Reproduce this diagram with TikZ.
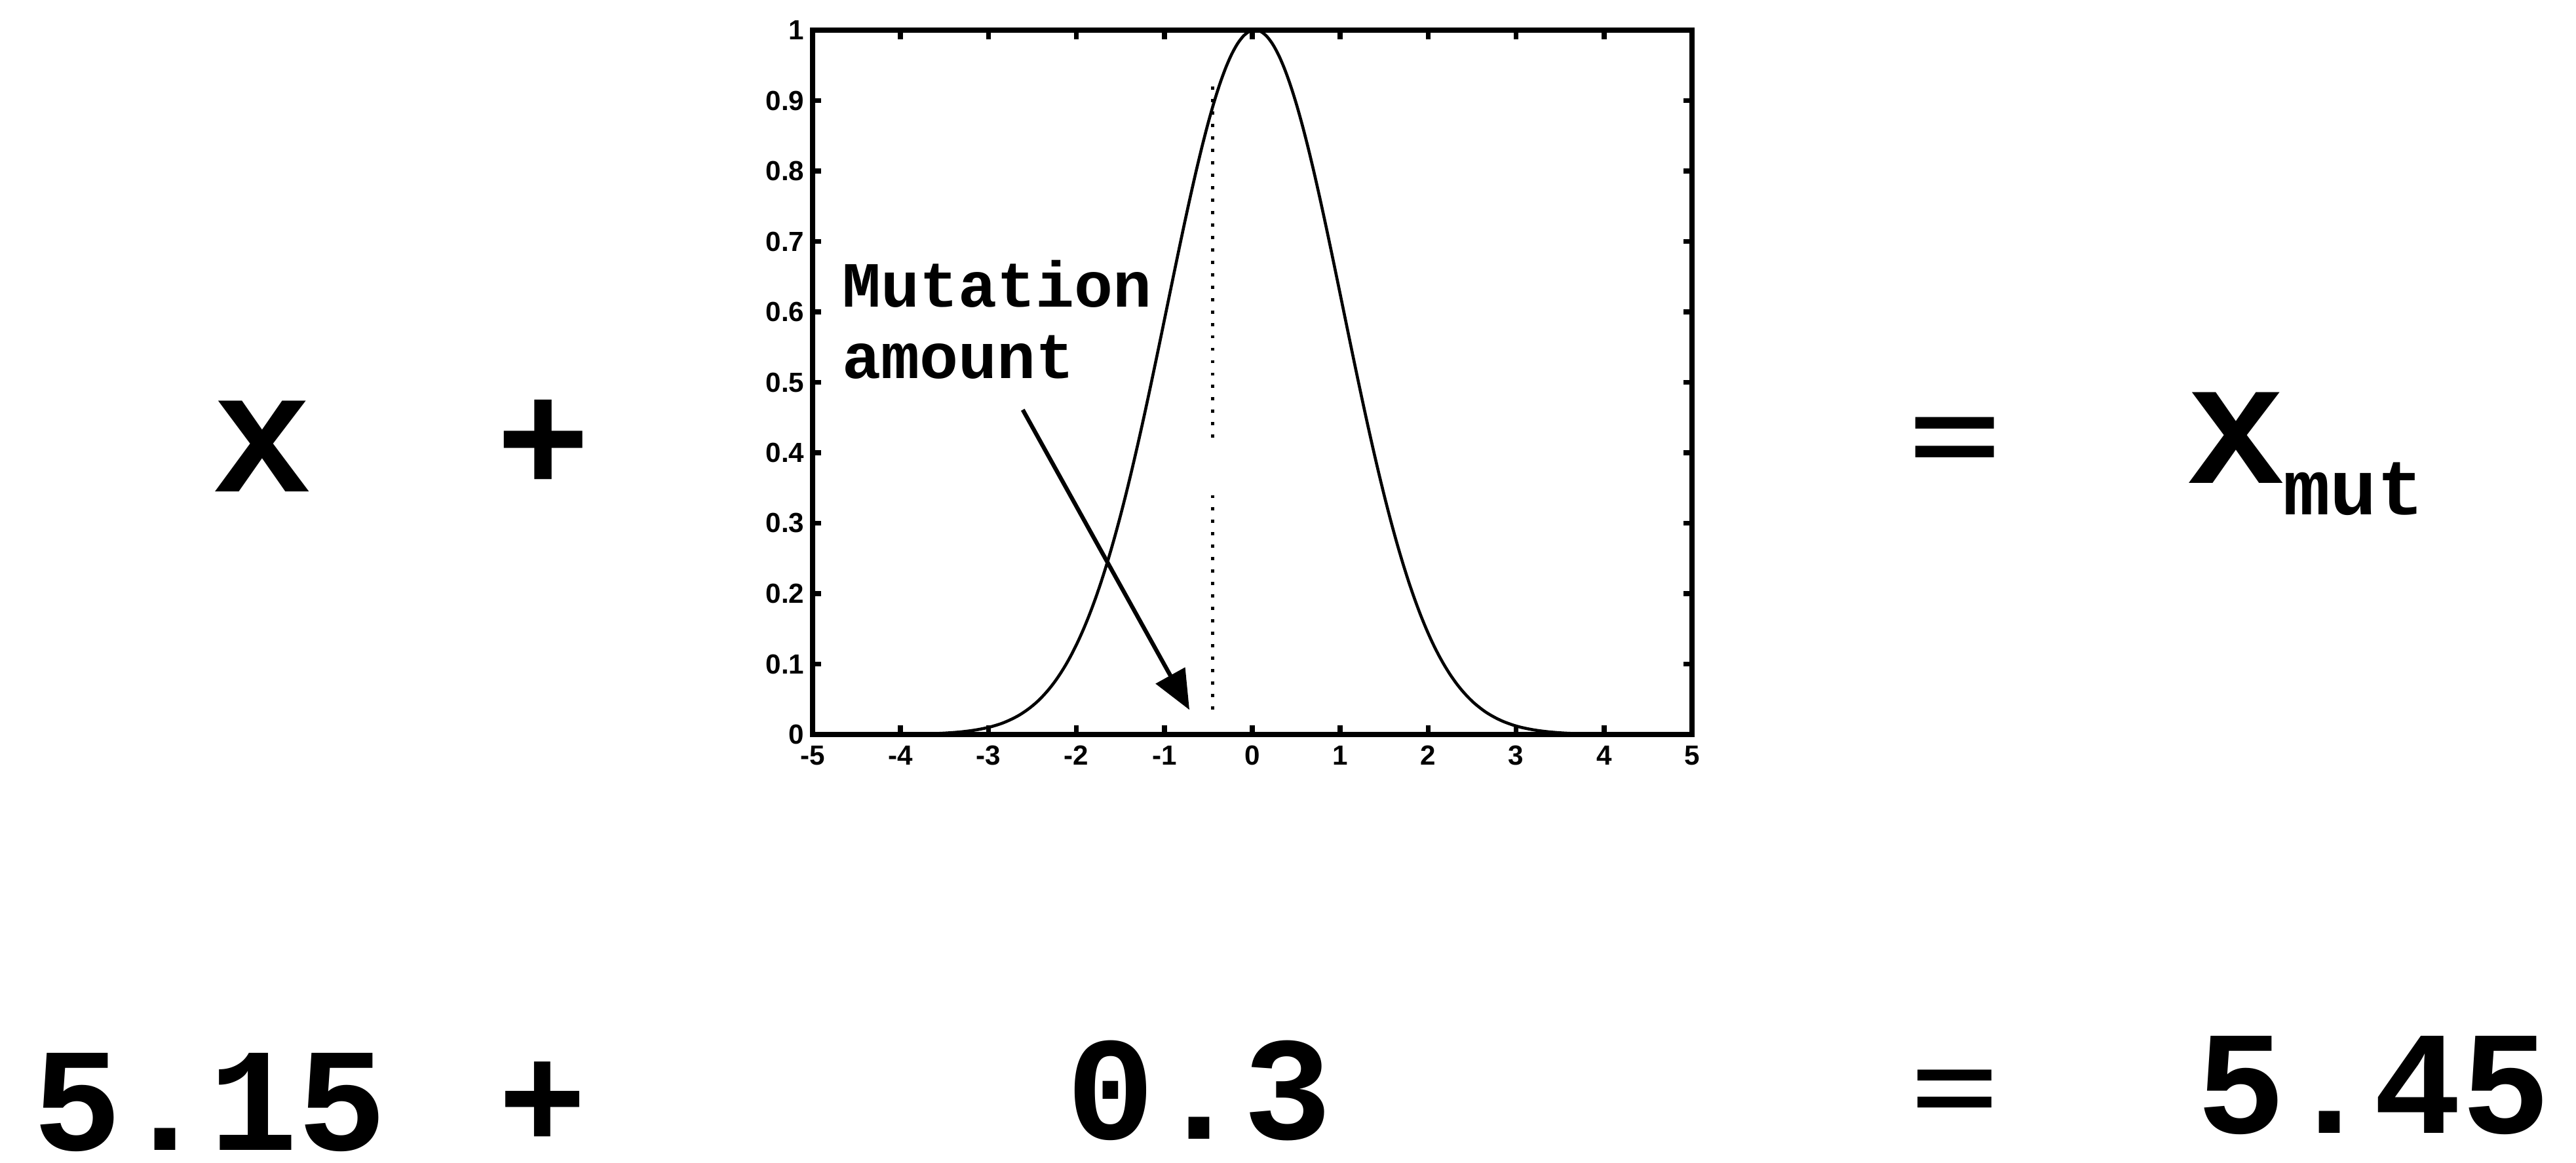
\documentclass[tikz,border=0pt]{standalone}
\usepackage{fontspec}
\setmonofont{Liberation Mono}
\setsansfont{Liberation Sans}
\usetikzlibrary{arrows.meta,positioning}

\begin{document}
\begin{tikzpicture}[
  bigsym/.style={inner sep=0pt,font=\ttfamily\bfseries\fontsize{68}{68}\selectfont},
  numtxt/.style={inner sep=0pt,font=\ttfamily\bfseries\fontsize{64}{64}\selectfont},
  ticklbl/.style={inner sep=0pt,font=\sffamily\bfseries\fontsize{12}{12}\selectfont},
  note/.style={inner sep=0pt,font=\ttfamily\bfseries\fontsize{28}{31}\selectfont,align=left},
  curve/.style={line width=1.3pt},
  frame/.style={line width=2.2pt},
  dots/.style={line width=1.4pt,dash pattern=on 1.4pt off 4pt},
  pointer/.style={-{Triangle[length=6mm,width=5mm]},line width=1.8pt}
]
  \useasboundingbox (0,0) rectangle (39.31,17.74);
  % top row
  \node[bigsym,anchor=base] (xin)  at (4.00,10.24) {\scalebox{1}[0.88]{X}};
  \node[bigsym,anchor=base] (plus1) at (8.29,10.24) {+};
  \node[bigsym,anchor=base] (eq1)  at (29.83,10.52) {\scalebox{1}[0.68]{=}};
  \node[bigsym,anchor=base west] (xout) at (33.40,10.37)
    {\scalebox{1}[0.88]{X}\raisebox{-0.48cm}{\fontsize{34}{34}\selectfont mut}};
  % bottom row
  \node[numtxt,anchor=base] (xval)  at (3.20,0.19) {5.15};
  \node[numtxt,anchor=base] (plus2) at (8.28,0.22) {+};
  \node[numtxt,anchor=base] (mval)  at (18.30,0.36) {0.3};
  \node[numtxt,anchor=base] (eq2)   at (29.83,0.62) {\scalebox{1}[0.68]{=}};
  \node[numtxt,anchor=base] (res)   at (36.22,0.45) {5.45};
  % gaussian plot
  \begin{scope}[shift={(19.11,6.53)},x=1.342cm,y=10.75cm]
    \draw[frame] (-5,0) rectangle (5,1);
    \foreach \t in {-5,...,5} {
      \draw[frame] (\t,0) -- ++(0,0.013);
      \draw[frame] (\t,1) -- ++(0,-0.013);
      \node[ticklbl] at (\t,-0.03) {\t};
    }
    \foreach \v/\lbl in {0/0,0.1/0.1,0.2/0.2,0.3/0.3,0.4/0.4,0.5/0.5,0.6/0.6,0.7/0.7,0.8/0.8,0.9/0.9,1/1} {
      \draw[frame] (-5,\v) -- ++(0.1,0);
      \draw[frame] (5,\v) -- ++(-0.1,0);
      \node[ticklbl,anchor=east] at (-5.09,\v) {\lbl};
    }
    \draw[curve] plot[domain=-5:5,samples=150,smooth] (\x,{exp(-(\x-0.03)*(\x-0.03)/2)});
    \draw[dots] (-0.45,0.92) -- (-0.45,0.42);
    \draw[dots] (-0.45,0.34) -- (-0.45,0.03);
    \node[note,anchor=base west] (mutlbl) at (-4.67,0.506) {Mutation\\amount};
    \coordinate (arrtail) at (-2.61,0.461);
    \coordinate (arrhead) at (-0.715,0.035);
    \draw[pointer] (arrtail) -- (arrhead);
  \end{scope}
\end{tikzpicture}
\end{document}
